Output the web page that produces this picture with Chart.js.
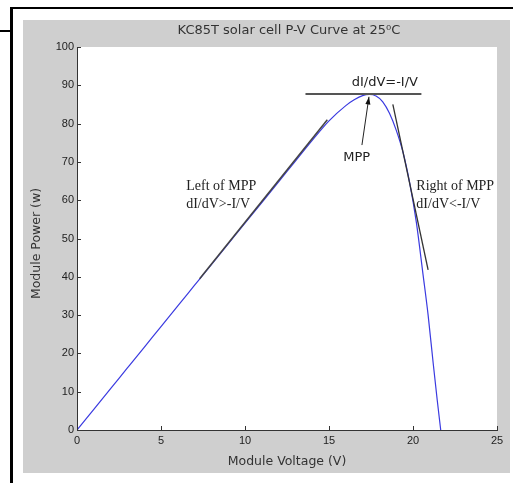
<!DOCTYPE html>
<html><head><meta charset="utf-8">
<script src="https://cdn.jsdelivr.net/npm/chart.js@4.4.1/dist/chart.umd.min.js"></script>
<style>html,body{margin:0;padding:0;background:#fff;}canvas{display:block;}</style>
</head><body>
<canvas id="c" width="513" height="483"></canvas>
<script>
// P-V curve (module voltage V, module power W)
const voltage = [0,1,2,3,4,5,6,7,8,9,10,11,12,13,14,15,16,16.5,17,17.4,17.8,18.2,18.6,19,19.4,19.8,20.2,20.6,20.9,21.2,21.45,21.65];
const power   = [0,5.4,10.8,16.2,21.6,27.0,32.4,37.8,43.2,48.6,54.0,59.4,64.8,70.2,75.6,80.7,84.7,86.2,87.3,87.6,87.2,85.7,82.7,78.3,72.6,64.6,54.2,40.5,30.0,17.5,7.5,0];
// tangent / reference lines [V, P]
const mppLineV = [13.6, 20.5];      const mppLineP = [87.7, 87.7];
const leftTanV = [7.3, 14.9];       const leftTanP = [39.5, 81.0];
const rightTanV = [18.8, 20.9];     const rightTanP = [85.0, 41.8];
const arrowV = [16.96, 17.38];      const arrowP = [74.4, 87.0];
const xTicks = [0,5,10,15,20,25];
const yTicks = [0,10,20,30,40,50,60,70,80,90,100];
const titleText = "KC85T solar cell P-V Curve at 25\u2070C";
const xTitle = "Module Voltage (V)";
const yTitle = "Module Power (w)";

const pts = (xs, ys) => xs.map((x,i)=>({x:x,y:ys[i]}));
const SANS = '"DejaVu Sans", "Liberation Sans", sans-serif';

const framePlugin = {
  id:'frame',
  beforeDraw(chart){
    const c = chart.ctx, a = chart.chartArea;
    c.save();
    c.fillStyle='#fff'; c.fillRect(0,0,513,483);
    c.fillStyle='#cfcfcf'; c.fillRect(23,20,487,453);
    c.fillStyle='#fff'; c.fillRect(a.left,a.top,a.right-a.left,a.bottom-a.top);
    c.fillStyle='#000';
    c.fillRect(11,7,502,2);
    c.fillRect(0,30,12,2);
    c.fillRect(10,7,3,476);
    c.restore();
  },
  afterDraw(chart){
    const c = chart.ctx, a = chart.chartArea;
    const xs = chart.scales.x, ys = chart.scales.y;
    c.save();
    c.strokeStyle='#333'; c.lineWidth=1;
    xTicks.forEach(v=>{const px=Math.round(xs.getPixelForValue(v))+0.5; c.beginPath(); c.moveTo(px,a.bottom); c.lineTo(px,a.bottom-4); c.stroke();});
    yTicks.forEach(v=>{const py=Math.round(ys.getPixelForValue(v))+0.5; c.beginPath(); c.moveTo(a.left,py); c.lineTo(a.left+4,py); c.stroke();});
    // titles
    c.fillStyle='#333';
    c.textAlign='center'; c.textBaseline='middle';
    c.font='13px '+SANS;
    c.fillText(titleText, (a.left+a.right)/2 + 2, 31);
    c.font='12.5px '+SANS;
    c.fillText(xTitle, (a.left+a.right)/2, 462);
    c.save(); c.translate(37,(a.top+a.bottom)/2 + 5); c.rotate(-Math.PI/2); c.fillText(yTitle,0,0); c.restore();
    // annotations
    const X=v=>xs.getPixelForValue(v), Y=v=>ys.getPixelForValue(v);
    c.fillStyle='#222';
    c.font='13px '+SANS;
    c.textAlign='left';
    c.fillText('dI/dV=-I/V', X(16.35), Y(90.6));
    c.fillText('MPP', X(15.85), Y(71.2));
    c.font='14px "Liberation Serif", "Times New Roman", serif';
    c.fillText('Left of MPP', X(6.5), Y(63.6));
    c.fillText('dI/dV>-I/V', X(6.5), Y(59.0));
    c.fillText('Right of MPP', X(20.2), Y(63.6));
    c.fillText('dI/dV<-I/V', X(20.2), Y(59.0));
    // arrow head
    const x1=X(arrowV[0]), y1=Y(arrowP[0]), x2=X(arrowV[1]), y2=Y(arrowP[1]);
    const ang=Math.atan2(y2-y1,x2-x1), L=8, w=0.32;
    c.fillStyle='#111'; c.beginPath();
    c.moveTo(x2,y2);
    c.lineTo(x2-L*Math.cos(ang-w), y2-L*Math.sin(ang-w));
    c.lineTo(x2-L*Math.cos(ang+w), y2-L*Math.sin(ang+w));
    c.closePath(); c.fill();
    c.restore();
  }
};

new Chart(document.getElementById('c'), {
  type:'scatter',
  data:{datasets:[
    {data:pts(mppLineV,mppLineP), showLine:true, borderColor:'#555', borderWidth:2, pointRadius:0},
    {data:pts(leftTanV,leftTanP), showLine:true, borderColor:'#444', borderWidth:1.5, pointRadius:0},
    {data:pts(rightTanV,rightTanP), showLine:true, borderColor:'#333', borderWidth:1.3, pointRadius:0},
    {data:pts(arrowV,arrowP), showLine:true, borderColor:'#222', borderWidth:1, pointRadius:0},
    {data:pts(voltage,power), showLine:true, borderColor:'#3a3ae0', borderWidth:1.2, pointRadius:0, cubicInterpolationMode:'monotone'}
  ]},
  options:{
    responsive:false, animation:false, devicePixelRatio:1,
    layout:{padding:{left:37,right:16,top:47,bottom:8}},
    plugins:{legend:{display:false}, tooltip:{enabled:false}},
    scales:{
      x:{type:'linear', min:0, max:25,
        afterBuildTicks(s){s.ticks=xTicks.map(v=>({value:v}));},
        afterFit(s){s.height=45;},
        grid:{drawOnChartArea:false, drawTicks:false},
        border:{display:true,color:'#333',width:1},
        ticks:{padding:4, color:'#222', font:{family:'"Liberation Sans", Arial, sans-serif', size:11}, maxRotation:0}
      },
      y:{type:'linear', min:0, max:100,
        afterBuildTicks(s){s.ticks=yTicks.map(v=>({value:v}));},
        afterFit(s){s.width=40;},
        grid:{drawOnChartArea:false, drawTicks:false},
        border:{display:true,color:'#333',width:1},
        ticks:{padding:3, color:'#222', font:{family:'"Liberation Sans", Arial, sans-serif', size:11}}
      }
    }
  },
  plugins:[framePlugin]
});
</script>
</body></html>
